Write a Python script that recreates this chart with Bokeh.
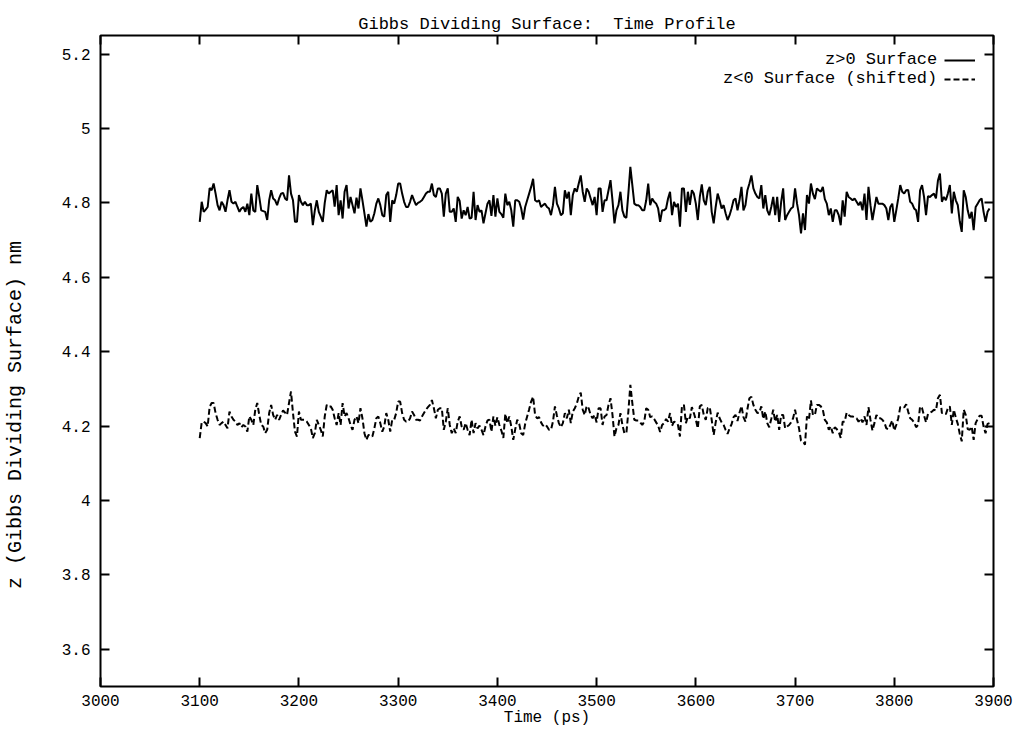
import numpy as np
from bokeh.plotting import figure
from bokeh.models import (Range1d, LinearAxis, FixedTicker, CustomJSTickFormatter,
                          Legend, LegendItem)
from bokeh.embed import file_html
from bokeh.resources import INLINE

# ---------------- data ----------------
time_ps = np.arange(3100, 3898, 2)

z_upper = [
    4.749, 4.803, 4.776, 4.782, 4.789, 4.840, 4.834, 4.852, 4.825, 4.794,
    4.780, 4.803, 4.794, 4.776, 4.807, 4.834, 4.803, 4.798, 4.803, 4.789,
    4.776, 4.785, 4.789, 4.776, 4.798, 4.767, 4.825, 4.780, 4.776, 4.848,
    4.816, 4.780, 4.778, 4.776, 4.754, 4.807, 4.834, 4.812, 4.807, 4.794,
    4.812, 4.825, 4.827, 4.812, 4.807, 4.874, 4.825, 4.807, 4.749, 4.749,
    4.821, 4.803, 4.794, 4.803, 4.794, 4.794, 4.798, 4.740, 4.780, 4.807,
    4.776, 4.763, 4.749, 4.800, 4.834, 4.825, 4.830, 4.834, 4.790, 4.848,
    4.767, 4.807, 4.758, 4.830, 4.848, 4.785, 4.816, 4.794, 4.772, 4.814,
    4.785, 4.839, 4.807, 4.772, 4.736, 4.770, 4.749, 4.754, 4.772, 4.798,
    4.812, 4.794, 4.767, 4.763, 4.821, 4.830, 4.749, 4.807, 4.798, 4.821,
    4.852,
    4.852, 4.825, 4.803, 4.789, 4.789, 4.803, 4.821, 4.807, 4.794, 4.800,
    4.803, 4.807, 4.816, 4.825, 4.830, 4.830, 4.852, 4.821, 4.816, 4.839,
    4.839, 4.825, 4.763, 4.825, 4.839, 4.776, 4.776, 4.785, 4.749, 4.816,
    4.805, 4.758, 4.780, 4.767, 4.789, 4.758, 4.760, 4.830, 4.754, 4.794,
    4.776, 4.780, 4.745, 4.772, 4.798, 4.807, 4.765, 4.821, 4.763, 4.812,
    4.776, 4.770, 4.760, 4.825, 4.794, 4.803, 4.780, 4.736, 4.807, 4.807,
    4.803, 4.785, 4.755, 4.789, 4.807, 4.825, 4.843, 4.865, 4.807, 4.803,
    4.807, 4.789, 4.794, 4.798, 4.789, 4.785, 4.767, 4.794, 4.843, 4.798,
    4.785, 4.767, 4.772, 4.834, 4.812, 4.830, 4.767, 4.821, 4.839, 4.830,
    4.852, 4.874, 4.830, 4.803, 4.839, 4.830, 4.812, 4.794, 4.816, 4.767,
    4.839,
    4.839, 4.776, 4.807, 4.807, 4.834, 4.861, 4.807, 4.745, 4.780, 4.794,
    4.830, 4.780, 4.763, 4.760, 4.825, 4.897, 4.848, 4.798, 4.794, 4.794,
    4.789, 4.780, 4.780, 4.807, 4.852, 4.794, 4.812, 4.803, 4.798, 4.785,
    4.749, 4.780, 4.780, 4.785, 4.812, 4.830, 4.767, 4.803, 4.789, 4.798,
    4.736, 4.839, 4.839, 4.776, 4.830, 4.795, 4.834, 4.825, 4.798, 4.754,
    4.816, 4.850, 4.807, 4.794, 4.830, 4.843, 4.776, 4.745, 4.789, 4.825,
    4.807, 4.785, 4.794, 4.772, 4.754, 4.767, 4.785, 4.807, 4.812, 4.780,
    4.807, 4.843, 4.780, 4.794, 4.834, 4.852, 4.874, 4.839, 4.825, 4.816,
    4.812, 4.848, 4.785, 4.821, 4.780, 4.767, 4.789, 4.816, 4.767, 4.816,
    4.749, 4.803, 4.839, 4.754, 4.767, 4.776, 4.785, 4.789, 4.839, 4.798,
    4.767, 4.718, 4.772, 4.727, 4.821, 4.798, 4.852, 4.825, 4.810, 4.839,
    4.834, 4.830, 4.843, 4.810, 4.798, 4.767, 4.785, 4.749, 4.780, 4.780,
    4.767, 4.740, 4.807, 4.763, 4.830, 4.816, 4.812, 4.807, 4.812, 4.803,
    4.794, 4.803, 4.780, 4.825, 4.754, 4.843, 4.794, 4.754, 4.785, 4.816,
    4.798, 4.798, 4.798, 4.794, 4.785, 4.754, 4.789, 4.798, 4.749, 4.780,
    4.812, 4.848, 4.830, 4.825, 4.834, 4.835, 4.803, 4.798, 4.785, 4.780,
    4.749, 4.834, 4.848, 4.816, 4.767, 4.818, 4.816, 4.821, 4.825, 4.812,
    4.860, 4.879, 4.803, 4.816, 4.807, 4.825, 4.848, 4.772, 4.830, 4.807,
    4.794, 4.750, 4.722, 4.834, 4.816, 4.780, 4.758, 4.776, 4.727, 4.789,
    4.798, 4.807, 4.812, 4.776, 4.749, 4.776, 4.785,
]

z_lower = [
    4.168, 4.210, 4.212, 4.208, 4.199, 4.252, 4.262, 4.262, 4.235, 4.217,
    4.203, 4.208, 4.212, 4.203, 4.194, 4.239, 4.226, 4.217, 4.212, 4.203,
    4.208, 4.197, 4.203, 4.199, 4.185, 4.226, 4.217, 4.203, 4.244, 4.262,
    4.230, 4.203, 4.199, 4.181, 4.190, 4.235, 4.257, 4.230, 4.217, 4.230,
    4.217, 4.230, 4.242, 4.236, 4.230, 4.262, 4.293, 4.235, 4.185, 4.172,
    4.239, 4.217, 4.217, 4.217, 4.212, 4.203, 4.194, 4.168, 4.181, 4.217,
    4.203, 4.190, 4.172, 4.226, 4.257, 4.253, 4.253, 4.244, 4.221, 4.203,
    4.235, 4.203, 4.262, 4.226, 4.235, 4.221, 4.203, 4.190, 4.217, 4.226,
    4.208, 4.248, 4.221, 4.181, 4.163, 4.176, 4.176, 4.172, 4.194, 4.221,
    4.226, 4.208, 4.185, 4.199, 4.235, 4.217, 4.185, 4.217, 4.217, 4.235,
    4.266,
    4.266, 4.235, 4.217, 4.212, 4.212, 4.221, 4.239, 4.230, 4.217, 4.217,
    4.215, 4.226, 4.235, 4.244, 4.251, 4.257, 4.270, 4.248, 4.221, 4.244,
    4.248, 4.248, 4.190, 4.212, 4.248, 4.203, 4.181, 4.194, 4.181, 4.212,
    4.226, 4.199, 4.190, 4.208, 4.190, 4.176, 4.217, 4.181, 4.208, 4.194,
    4.201, 4.190, 4.176, 4.199, 4.215, 4.217, 4.185, 4.226, 4.201, 4.224,
    4.203, 4.188, 4.168, 4.233, 4.208, 4.226, 4.199, 4.163, 4.192, 4.217,
    4.206, 4.181, 4.176, 4.206, 4.226, 4.245, 4.266, 4.279, 4.230, 4.221,
    4.224, 4.210, 4.201, 4.205, 4.199, 4.190, 4.190, 4.212, 4.253, 4.228,
    4.208, 4.197, 4.208, 4.235, 4.221, 4.244, 4.208, 4.239, 4.248, 4.260,
    4.279, 4.290, 4.244, 4.230, 4.254, 4.248, 4.230, 4.221, 4.230, 4.210,
    4.248,
    4.248, 4.203, 4.226, 4.230, 4.257, 4.275, 4.230, 4.172, 4.194, 4.203,
    4.235, 4.203, 4.181, 4.181, 4.239, 4.311, 4.262, 4.217, 4.215, 4.215,
    4.210, 4.203, 4.212, 4.248, 4.244, 4.224, 4.226, 4.219, 4.210, 4.201,
    4.184, 4.203, 4.208, 4.219, 4.212, 4.235, 4.201, 4.212, 4.210, 4.203,
    4.172, 4.253, 4.257, 4.208, 4.226, 4.221, 4.251, 4.235, 4.217, 4.194,
    4.253, 4.257, 4.230, 4.217, 4.248, 4.251, 4.217, 4.176, 4.210, 4.236,
    4.221, 4.210, 4.203, 4.190, 4.179, 4.194, 4.205, 4.224, 4.230, 4.214,
    4.236, 4.254, 4.224, 4.212, 4.246, 4.275, 4.279, 4.257, 4.244, 4.235,
    4.236, 4.253, 4.219, 4.239, 4.208, 4.197, 4.219, 4.244, 4.212, 4.230,
    4.190, 4.230, 4.230, 4.194, 4.199, 4.203, 4.210, 4.221, 4.244, 4.217,
    4.194, 4.161, 4.159, 4.150, 4.226, 4.217, 4.269, 4.230, 4.230, 4.257,
    4.257, 4.253, 4.244, 4.217, 4.210, 4.190, 4.199, 4.181, 4.197, 4.192,
    4.185, 4.168, 4.212, 4.212, 4.236, 4.230, 4.226, 4.226, 4.223, 4.221,
    4.212, 4.221, 4.210, 4.226, 4.203, 4.251, 4.217, 4.188, 4.208, 4.230,
    4.221, 4.221, 4.217, 4.210, 4.194, 4.192, 4.203, 4.215, 4.188, 4.203,
    4.221, 4.251, 4.253, 4.250, 4.259, 4.239, 4.221, 4.217, 4.210, 4.197,
    4.203, 4.253, 4.248, 4.228, 4.210, 4.233, 4.236, 4.239, 4.244, 4.242,
    4.275, 4.284, 4.235, 4.235, 4.232, 4.248, 4.253, 4.203, 4.244, 4.223,
    4.206, 4.179, 4.159, 4.244, 4.230, 4.192, 4.190, 4.199, 4.163, 4.208,
    4.219, 4.228, 4.228, 4.199, 4.181, 4.206, 4.208,
]

series_labels = ["z>0 Surface", "z<0 Surface (shifted)"]
x_ticks = [3000, 3100, 3200, 3300, 3400, 3500, 3600, 3700, 3800, 3900]
y_ticks = [3.6, 3.8, 4.0, 4.2, 4.4, 4.6, 4.8, 5.0, 5.2]
y_title = "z (Gibbs Dividing Surface) nm"

FONT = "Liberation Mono"
nb = "\u00a0"

# ---------------- figure ----------------
p = figure(width=1016, height=729,
           x_range=Range1d(3000, 3900), y_range=Range1d(3.5, 5.25),
           output_backend="svg", toolbar_location=None,
           min_border_left=100, min_border_right=23,
           min_border_top=35, min_border_bottom=42,
           title="Gibbs Dividing Surface:" + nb + " Time Profile",
           x_axis_label="Time (ps)",
           # trailing no-break spaces push the rotated title down, as in the original
           y_axis_label=y_title + nb * 9)

p.background_fill_color = "white"
p.border_fill_color = "white"
p.outline_line_color = "black"
p.outline_line_width = 2
p.grid.visible = False

p.title.align = "center"
p.title.text_font = FONT
p.title.text_font_size = "17px"
p.title.text_font_style = "normal"
p.title.text_color = "black"
p.title.standoff = 4

yfmt = CustomJSTickFormatter(code="return (Math.round(tick*10)/10).toString();")

def style_axis(ax, ticks, show_labels):
    ax.ticker = FixedTicker(ticks=ticks)
    ax.axis_line_color = None
    ax.major_tick_in = 9
    ax.major_tick_out = 0
    ax.major_tick_line_width = 2
    ax.major_tick_line_color = "black"
    ax.minor_tick_line_color = None
    ax.major_label_text_font = FONT
    ax.major_label_text_font_size = "16px"
    ax.major_label_text_color = "black"
    ax.axis_label_text_font = FONT
    ax.axis_label_text_font_size = "16px"
    ax.axis_label_text_font_style = "normal"
    ax.axis_label_text_color = "black"
    if not show_labels:
        ax.formatter = CustomJSTickFormatter(code="return '';")
        ax.major_label_standoff = 0

xa = p.xaxis[0]
style_axis(xa, x_ticks, True)
xa.major_label_standoff = 8
xa.axis_label_standoff = 0

ya = p.yaxis[0]
style_axis(ya, y_ticks, True)
ya.formatter = yfmt
ya.major_label_standoff = 10
ya.axis_label_standoff = 32
ya.axis_label_text_font_size = "20px"

top_ax = LinearAxis()
style_axis(top_ax, x_ticks, False)
p.add_layout(top_ax, "above")

right_ax = LinearAxis()
style_axis(right_ax, y_ticks, False)
p.add_layout(right_ax, "right")

# ---------------- series ----------------
r1 = p.line(time_ps, z_upper, line_color="black", line_width=2)
r2 = p.line(time_ps, z_lower, line_color="black", line_width=2, line_dash="6 3")

# gnuplot-style key: right-aligned text, sample line to its right
w = max(len(s) for s in series_labels)
text_items = [LegendItem(label=nb * (w - len(s)) + s, renderers=[r])
              for s, r in zip(series_labels, [r1, r2])]
leg_text = Legend(items=text_items, location=(623, 598),
                  glyph_width=0, label_standoff=0, padding=0, spacing=0,
                  label_height=18, glyph_height=18,
                  label_text_font=FONT, label_text_font_size="17px",
                  label_text_color="black",
                  border_line_color=None, background_fill_alpha=0)
p.add_layout(leg_text)

glyph_items = [LegendItem(label=nb, renderers=[r]) for r in [r1, r2]]
leg_glyph = Legend(items=glyph_items, location=(844, 598),
                   glyph_width=31, label_standoff=0, padding=0, spacing=0,
                   label_height=18, glyph_height=18,
                   label_text_font=FONT, label_text_font_size="17px",
                   border_line_color=None, background_fill_alpha=0)
p.add_layout(leg_glyph)

open("out.html", "w").write(file_html(p, INLINE))
